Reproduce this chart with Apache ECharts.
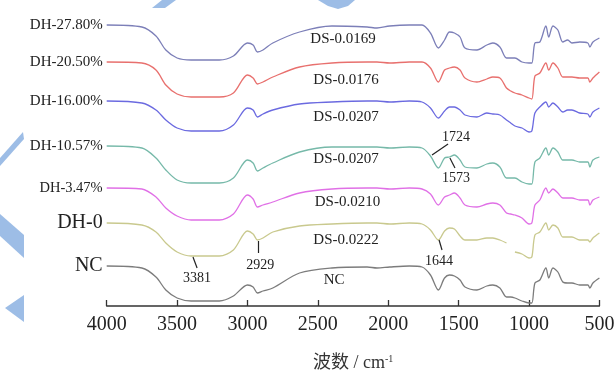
<!DOCTYPE html>
<html>
<head>
<meta charset="utf-8">
<script src="https://cdn.jsdelivr.net/npm/echarts@6/dist/echarts.min.js"></script>
<style>
  html, body { margin: 0; padding: 0; background: #fff; }
  #chart { width: 615px; height: 371px; }
</style>
</head>
<body>
<div id="chart"></div>
<script>
"use strict";

// 波数 (cm-1)
var wavenumbers = [4000, 3750, 3650, 3580, 3500, 3400, 3200, 3100, 3000, 2960,
  2929, 2890, 2820, 2630, 2400, 2150, 2080, 1990, 1850, 1760,
  1700, 1644, 1600, 1565, 1530, 1490, 1455, 1370, 1300, 1257,
  1207, 1160, 1130, 1100, 1050, 1000, 980, 958, 923, 880,
  860, 830, 795, 760, 725, 695, 640, 582, 568, 546, 500];

// offset spectra (read downward from top of plot, a.u.)
var dh2780 = [25, 27, 36, 50, 58, 60, 60, 56, 43, 45, 52, 50, 43, 32, 26, 27, 28, 26, 25, 25,
  33, 48, 40, 32, 33, 37, 48, 50, 45, 43, 47, 58, 58, 58, 62, 63, 63, 43, 42, 26,
  37, 26, 30, 42, 40, 43, 42, 43, 47, 42, 38];
var dh2050 = [62, 63, 70, 85, 94, 97, 97, 93, 75, 78, 84, 82, 77, 67, 63, 62, 62, 63, 62, 62,
  68, 82, 70, 68, 67, 70, 78, 82, 79, 77, 78, 88, 91, 93, 95, 98, 99, 76, 73, 63,
  70, 63, 68, 77, 77, 77, 78, 78, 82, 78, 72];
var dh1600 = [101, 103, 110, 120, 128, 131, 131, 125, 108, 110, 117, 114, 110, 104, 102, 101, 101, 102, 101, 102,
  108, 118, 111, 107, 107, 110, 115, 117, 113, 114, 115, 120, 123, 126, 128, 132, 131, 113, 107, 102,
  107, 103, 107, 112, 110, 110, 113, 114, 117, 112, 108];
var dh1057 = [146, 148, 158, 170, 180, 183, 183, 178, 160, 163, 171, 168, 163, 152, 147, 147, 147, 148, 147, 148,
  156, 168, 158, 157, 155, 160, 167, 168, 164, 163, 167, 178, 178, 178, 182, 184, 184, 162, 158, 148,
  155, 148, 152, 160, 160, 160, 162, 162, 167, 160, 157];
var dh347 = [188, 189, 197, 208, 216, 220, 220, 214, 195, 199, 207, 205, 202, 193, 189, 188, 188, 189, 188, 189,
  194, 205, 197, 195, 193, 198, 205, 207, 204, 203, 205, 213, 214, 215, 218, 224, 223, 205, 200, 188,
  193, 189, 193, 198, 198, 198, 200, 200, 205, 200, 197];
var dh0 = [223, 225, 232, 243, 252, 256, 256, 250, 231, 234, 240, 238, 232, 226, 224, 223, 223, 224, 223, 224,
  230, 240, 231, 228, 229, 236, 240, 240, 238, 238, 240, 243, null, 252, 254, 258, 257, 235, 232, 223,
  230, 225, 228, 237, 237, 237, 240, 240, 242, 238, 233];
var nc = [266, 268, 277, 290, 298, 301, 301, 296, 285, 287, 293, 291, 288, 273, 268, 267, 268, 267, 266, 267,
  275, 290, 278, 275, 276, 280, 287, 290, 286, 285, 288, 297, 297, 298, 301, 303, 303, 283, 280, 268,
  278, 268, 272, 282, 283, 283, 285, 285, 288, 283, 278];

var curveNames = ['DH-27.80%', 'DH-20.50%', 'DH-16.00%', 'DH-10.57%', 'DH-3.47%', 'DH-0', 'NC'];
var dsNames = ['DS-0.0169', 'DS-0.0176', 'DS-0.0207', 'DS-0.0207', 'DS-0.0210', 'DS-0.0222', 'NC'];
var curveData = [dh2780, dh2050, dh1600, dh1057, dh347, dh0, nc];
var xTicks = [4000, 3500, 3000, 2500, 2000, 1500, 1000, 500];

var colors = ['#7c7fb8', '#e8706e', '#6b6ae0', '#76b9a9', '#e070e6', '#c9c98e', '#7c7c7c'];
var SERIF = "'Liberation Serif', 'Times New Roman', serif";

// where the DS names sit [wavenumber, offset], and the name size on the left
var dsAt = [[2321, 39], [2300, 80], [2300, 117], [2300, 159], [2290, 202], [2300, 240], [2385, 280]];
var nameSize = [15, 15, 15, 15, 14.5, 20, 20];

// peak marks: curve index, text, leader line, text spot
var peaks = [
  {c: 5, t: '3381', line: [[3387, 257], [3358, 268]], at: [3358, 278]},
  {c: 5, t: '2929', line: [[2925, 241], [2925, 253]], at: [2910, 265]},
  {c: 5, t: '1644', line: [[1639, 240], [1618, 250]], at: [1639, 261]},
  {c: 3, t: '1724', line: [[1689, 155], [1575, 144]], at: [1519, 137]},
  {c: 3, t: '1573', line: [[1562, 158], [1526, 168]], at: [1519, 178]}
];

var chart = echarts.init(document.getElementById('chart'));

var series = curveData.map(function(vals, i) {
  var pts = [{
    coord: [wavenumbers[0], vals[0]],
    label: {show: true, position: 'left', distance: 4, formatter: curveNames[i],
      color: '#222', fontFamily: SERIF, fontSize: nameSize[i]}
  }, {
    coord: dsAt[i],
    label: {show: true, position: 'inside', formatter: dsNames[i],
      color: '#222', fontFamily: SERIF, fontSize: 15}
  }];
  var lines = [];
  peaks.forEach(function(p) {
    if (p.c !== i) return;
    pts.push({coord: p.at, label: {show: true, position: 'inside', formatter: p.t,
      color: '#222', fontFamily: SERIF, fontSize: 14}});
    lines.push([{coord: p.line[0]}, {coord: p.line[1]}]);
  });
  return {
    type: 'line',
    name: curveNames[i],
    data: wavenumbers.map(function(w, k) { return [w, vals[k]]; }),
    showSymbol: false,
    smooth: 0.3,
    connectNulls: false,
    lineStyle: {color: colors[i], width: 1.3},
    itemStyle: {color: colors[i]},
    markPoint: {symbol: 'circle', symbolSize: 0, silent: true, data: pts},
    markLine: {symbol: 'none', silent: true, label: {show: false},
      lineStyle: {color: '#222', width: 1.2, type: 'solid'}, data: lines}
  };
});

var wm = '#9dbde6';
var option = {
  animation: false,
  backgroundColor: '#fff',
  grid: {left: 106.7, right: 15.6, top: 0, bottom: 65, containLabel: false, outerBoundsMode: 'none'},
  xAxis: {
    type: 'value',
    min: 500,
    max: 4000,
    interval: 500,
    inverse: true,
    splitLine: {show: false},
    axisLine: {onZero: false, lineStyle: {color: '#333', width: 1.5}},
    axisTick: {inside: true, length: 6, lineStyle: {color: '#333', width: 1.3}},
    axisLabel: {margin: 9, color: '#222', fontFamily: SERIF, fontSize: 20,
      formatter: function(v) { return xTicks.indexOf(v) >= 0 ? String(v) : ''; }},
    name: '{a|波数 / cm}{s|-1}',
    nameLocation: 'middle',
    nameGap: 48,
    nameTextStyle: {
      rich: {
        a: {fontFamily: "'Liberation Serif', 'Noto Sans CJK SC', serif", fontSize: 18, color: '#333'},
        s: {fontFamily: SERIF, fontSize: 10, color: '#333', padding: [0, 0, 9, 0]}
      }
    }
  },
  yAxis: {type: 'value', min: 0, max: 306, inverse: true, show: false},
  graphic: [
    {type: 'polygon', z: -1, shape: {points: [[0, 158], [23, 132], [24, 139], [0, 166]]}, style: {fill: wm}},
    {type: 'polygon', z: -1, shape: {points: [[0, 214], [24, 235], [24, 258], [0, 236]]}, style: {fill: wm}},
    {type: 'polygon', z: -1, shape: {points: [[5, 308], [24, 295], [24, 322]]}, style: {fill: wm}},
    {type: 'polygon', z: -1, shape: {points: [[152, 8], [165, 8], [176, 0], [162, 0]]}, style: {fill: wm}},
    {type: 'polygon', z: -1, shape: {points: [[318, 0], [355, 0], [348, 6], [338, 9], [328, 6]]}, style: {fill: wm}}
  ],
  series: series
};

chart.setOption(option);
</script>
</body>
</html>
